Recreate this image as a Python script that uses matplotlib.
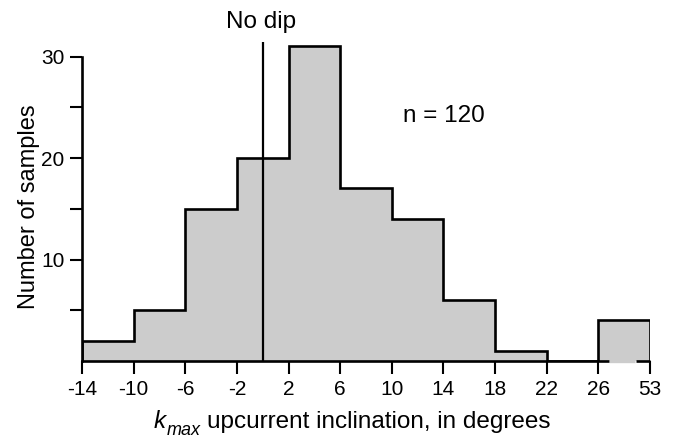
import matplotlib
matplotlib.use("Agg")
import matplotlib.pyplot as plt
import numpy as np

plt.rcParams['font.family'] = ['Liberation Sans', 'DejaVu Sans']

# Data
edge_labels = ['-14', '-10', '-6', '-2', '2', '6', '10', '14', '18', '22', '26', '53']
counts = [2, 5, 15, 20, 31, 17, 14, 6, 1, 0, 4]
n_label = 'n = 120'

edges = np.arange(len(edge_labels))
gray = '#cccccc'
lw = 1.9

W, H = 673, 438
fig = plt.figure(figsize=(W/100, H/100), dpi=100)
ax = fig.add_axes([82/W, 1-361/H, (650-82)/W, 32*10.15/H])

ax.stairs(counts, edges, fill=True, color=gray, lw=0)
ax.stairs(counts, edges, fill=False, baseline=0, color='black', lw=lw)

# No dip line at position of 0 degrees (between -2 and 2)
ax.plot([3.5, 3.5], [0, 31.4], color='black', lw=1.6, solid_capstyle='butt')

ax.set_xlim(0, 11)
ax.set_ylim(0, 32)
for s in ['top', 'right']:
    ax.spines[s].set_visible(False)
ax.spines['left'].set_bounds(0, 30)
ax.spines['bottom'].set_bounds(0, 10.19)
ax.spines['left'].set_linewidth(lw)
ax.spines['bottom'].set_linewidth(lw)
ax.plot([10.72, 11], [0, 0], color='black', lw=lw, clip_on=False, solid_capstyle='butt')
# gap in the baseline under the last bar
ax.plot([10.21, 10.70], [0, 0], color=gray, lw=lw + 0.5, clip_on=False, solid_capstyle='butt', zorder=5)

ax.set_xticks(edges)
ax.set_xticklabels(edge_labels)
ax.set_yticks([5, 10, 15, 20, 25, 30])
ax.set_yticklabels(['', '10', '', '20', '', '30'])
ax.tick_params(axis='both', direction='out', length=9, width=1.5, labelsize=15)
ax.tick_params(axis='x', pad=5)
ax.tick_params(axis='y', pad=3.5)

# x-axis label: italic k with subscript "max", then the rest
fig.text(154/W, 1-428/H, 'k', ha='left', va='baseline', fontsize=17.5, style='italic')
fig.text(167/W, 1-435/H, 'max', ha='left', va='baseline', fontsize=13, style='italic')
fig.text(207/W, 1-428/H, 'upcurrent inclination, in degrees', ha='left', va='baseline', fontsize=17.5)

fig.text(29/W, 1-207/H, 'Number of samples', ha='center', va='center',
         rotation=90, fontsize=17)

fig.text(261.5/W, 1-28/H, 'No dip', ha='center', va='baseline', fontsize=17.5)
fig.text(444/W, 1-122/H, n_label, ha='center', va='baseline', fontsize=17.5)

fig.savefig('out.png', dpi=100)
